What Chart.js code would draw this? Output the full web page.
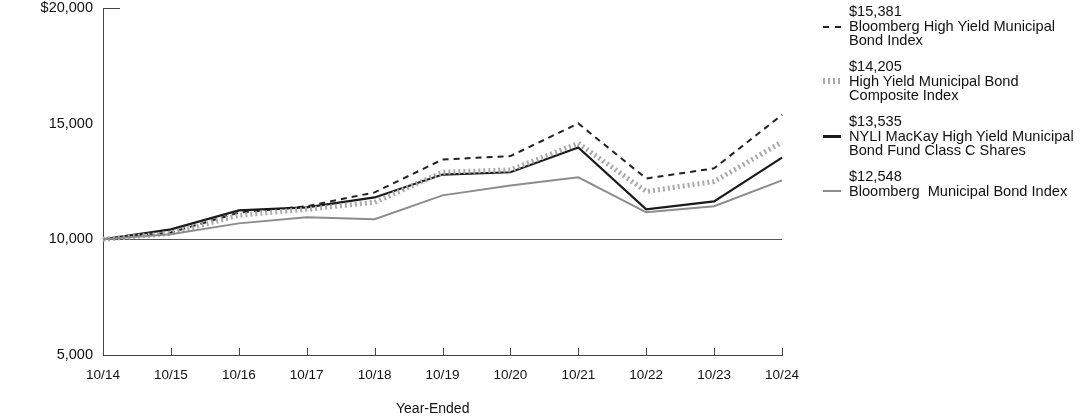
<!DOCTYPE html>
<html>
<head>
<meta charset="utf-8">
<script src="https://cdn.jsdelivr.net/npm/chart.js@4/dist/chart.umd.min.js"></script>
<style>
  html, body { margin: 0; padding: 0; background: #fff; }
  #wrap { position: relative; width: 1092px; height: 417px; font-family: "Liberation Sans", Arial, sans-serif; color: #111; }
  #chart { position: absolute; left: 0; top: 0; }
  .leg { position: absolute; left: 849px; font-size: 14.6px; line-height: 14.5px; }
  .sw { position: absolute; left: 823px; width: 18px; height: 0; }
  #xtitle { position: absolute; left: 396px; top: 400px; font-size: 14px; }
</style>
</head>
<body>
<div id="wrap">
  <canvas id="chart" width="1092" height="417"></canvas>
  <div class="leg" style="top:4px">$15,381<br>Bloomberg High Yield Municipal<br>Bond Index</div>
  <div class="sw" style="top:26px;border-top:2px dashed #222"></div>
  <div class="leg" style="top:59px">$14,205<br>High Yield Municipal Bond<br>Composite Index</div>
  <div class="sw" style="top:78px;height:6px;background:repeating-linear-gradient(90deg,#aaa 0 2px,transparent 2px 5px)"></div>
  <div class="leg" style="top:114px">$13,535<br>NYLI MacKay High Yield Municipal<br>Bond Fund Class C Shares</div>
  <div class="sw" style="top:135px;border-top:3px solid #1a1a1a"></div>
  <div class="leg" style="top:169px">$12,548<br>Bloomberg&nbsp; Municipal Bond Index</div>
  <div class="sw" style="top:190px;border-top:2px solid #8c8c8c"></div>
  <div id="xtitle">Year-Ended</div>
</div>
<script>
(function() {
  'use strict';

  var years = ['10/14', '10/15', '10/16', '10/17', '10/18', '10/19', '10/20', '10/21', '10/22', '10/23', '10/24'];
  var hyIndex = [10000, 10300, 11150, 11430, 12030, 13450, 13600, 15010, 12630, 13070, 15381];
  var composite = [10000, 10260, 11040, 11300, 11600, 12900, 13000, 14150, 12070, 12500, 14205];
  var fund = [10000, 10430, 11250, 11380, 11810, 12800, 12900, 13970, 11300, 11640, 13535];
  var muniIndex = [10000, 10220, 10690, 10950, 10870, 11900, 12330, 12680, 11170, 11430, 12548];

  // tick marks pointing up from the x axis and the stub at the top of y axis
  var axisMarks = {
    id: 'axisMarks',
    afterDraw: function(chart) {
      var c = chart.ctx, x = chart.scales.x, y = chart.scales.y;
      var bottom = chart.chartArea.bottom;
      c.save();
      c.strokeStyle = '#444';
      c.lineWidth = 1;
      c.beginPath();
      for (var i = 0; i < years.length; i++) {
        var px = Math.round(x.getPixelForTick(i)) + 0.5;
        c.moveTo(px, bottom);
        c.lineTo(px, bottom - 7);
      }
      var top = Math.round(y.getPixelForValue(20000)) + 0.5;
      c.moveTo(chart.chartArea.left, top);
      c.lineTo(chart.chartArea.left + 17, top);
      c.stroke();
      c.restore();
    }
  };

  var ctx = document.getElementById('chart');
  new Chart(ctx, {
    type: 'line',
    data: {
      labels: years,
      datasets: [{
        data: muniIndex,
        borderColor: '#8c8c8c',
        borderWidth: 2,
        pointRadius: 0,
        tension: 0
      }, {
        data: composite,
        borderColor: '#aaaaaa',
        borderWidth: 5,
        borderDash: [2, 3],
        pointRadius: 0,
        tension: 0
      }, {
        data: fund,
        borderColor: '#1a1a1a',
        borderWidth: 2.2,
        pointRadius: 0,
        tension: 0
      }, {
        data: hyIndex,
        borderColor: '#222222',
        borderWidth: 2,
        borderDash: [6, 5],
        pointRadius: 0,
        tension: 0
      }]
    },
    options: {
      responsive: false,
      animation: false,
      layout: { padding: { top: 8, right: 310, bottom: 0, left: 0 } },
      plugins: { legend: { display: false }, tooltip: { enabled: false } },
      scales: {
        x: {
          offset: false,
          grid: { display: false, drawTicks: false },
          border: { color: '#444', width: 1 },
          ticks: { color: '#111', padding: 12, maxRotation: 0, autoSkip: false,
                   font: { family: 'Liberation Sans', size: 13.5 } },
          afterFit: function(scale) { scale.height = 62; }
        },
        y: {
          min: 5000,
          max: 20000,
          grid: {
            drawTicks: false,
            color: function(c) { return c.tick && c.tick.value === 10000 ? '#555' : 'rgba(0,0,0,0)'; }
          },
          border: { color: '#444', width: 1 },
          ticks: {
            stepSize: 5000,
            padding: 10,
            color: '#111',
            font: { family: 'Liberation Sans', size: 14.5 },
            callback: function(v) {
              var s = v.toLocaleString('en-US');
              return v === 20000 ? '$' + s : s;
            }
          },
          afterFit: function(scale) {
            scale.width = 103;
            scale.paddingTop = 0;
            scale.paddingBottom = 0;
          }
        }
      }
    },
    plugins: [axisMarks]
  });
}());
</script>
</body>
</html>
